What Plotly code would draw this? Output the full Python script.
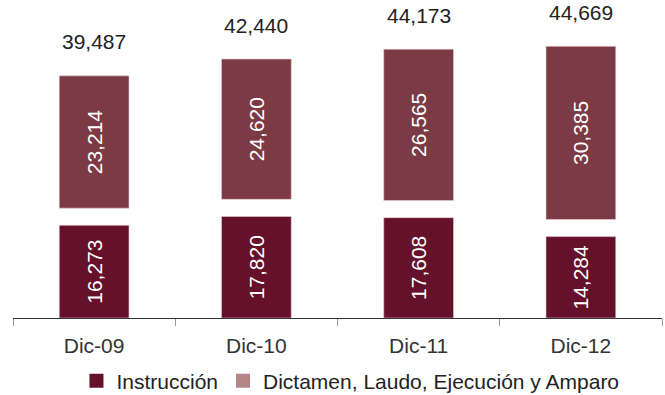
import plotly.graph_objects as go

categories = ["Dic-09", "Dic-10", "Dic-11", "Dic-12"]
instruccion = [16273, 17820, 17608, 14284]
dictamen = [23214, 24620, 26565, 30385]
series_names = ["Instrucción", "Dictamen, Laudo, Ejecución y Amparo"]

GAP = 3000  # visual separation between segments (style)
C_BOTTOM = "#66112b"
C_TOP = "#7b3a44"
C_TOP_LEGEND = "#b38788"
FONT = "Liberation Sans"
FS = 21

totals = [a + b for a, b in zip(instruccion, dictamen)]
top_base = [a + GAP for a in instruccion]

def fmt(v):
    return f"{v:,}"

fig = go.Figure()
fig.add_trace(go.Bar(
    x=categories, y=instruccion, width=0.43,
    marker=dict(color=C_BOTTOM, line=dict(color="#e8d0d4", width=0.6)),
    text=[fmt(v) for v in instruccion], textposition="inside",
    insidetextanchor="middle", textangle=-90,
    textfont=dict(color="white", size=FS, family=FONT),
    showlegend=False, hoverinfo="skip",
))
fig.add_trace(go.Bar(
    x=categories, y=dictamen, base=top_base, width=0.43,
    marker=dict(color=C_TOP, line=dict(color="#e8d0d4", width=0.6)),
    text=[fmt(v) for v in dictamen], textposition="inside",
    insidetextanchor="middle", textangle=-90,
    textfont=dict(color="white", size=FS, family=FONT),
    showlegend=False, hoverinfo="skip",
))
# legend entries
for name, col in zip(series_names, [C_BOTTOM, C_TOP_LEGEND]):
    fig.add_trace(go.Scatter(
        x=[None], y=[None], mode="markers", name=name,
        marker=dict(symbol="square", size=14, color=col),
    ))

annotations = []
for cat, b, t, tot in zip(categories, top_base, dictamen, totals):
    annotations.append(dict(
        x=cat, y=b + t, xref="x", yref="y", text=fmt(tot), showarrow=False,
        yanchor="middle", yshift=34,
        font=dict(size=FS, color="#222222", family=FONT),
    ))

fig.update_layout(
    width=665, height=395,
    margin=dict(l=13, r=3, t=0, b=77, autoexpand=False),
    barmode="overlay",
    plot_bgcolor="white", paper_bgcolor="white",
    font=dict(family=FONT, size=FS, color="#333333"),
    annotations=annotations,
    xaxis=dict(
        showline=True, linecolor="#333333", linewidth=1,
        ticks="outside", tickson="boundaries", ticklen=7, tickcolor="#999999",
        showgrid=False, tickfont=dict(size=FS, color="#333333"),
        ticklabelstandoff=9, automargin=False,
    ),
    yaxis=dict(visible=False, range=[0, 55800]),
    legend=dict(
        orientation="h", x=0.52, xanchor="center",
        yref="container", y=0.035, yanchor="middle",
        font=dict(size=FS, color="#222222"), itemwidth=30, tracegroupgap=0,
    ),
)

fig.write_html("out.html", config={"displayModeBar": False},
               post_script="document.body.style.margin='0';")
